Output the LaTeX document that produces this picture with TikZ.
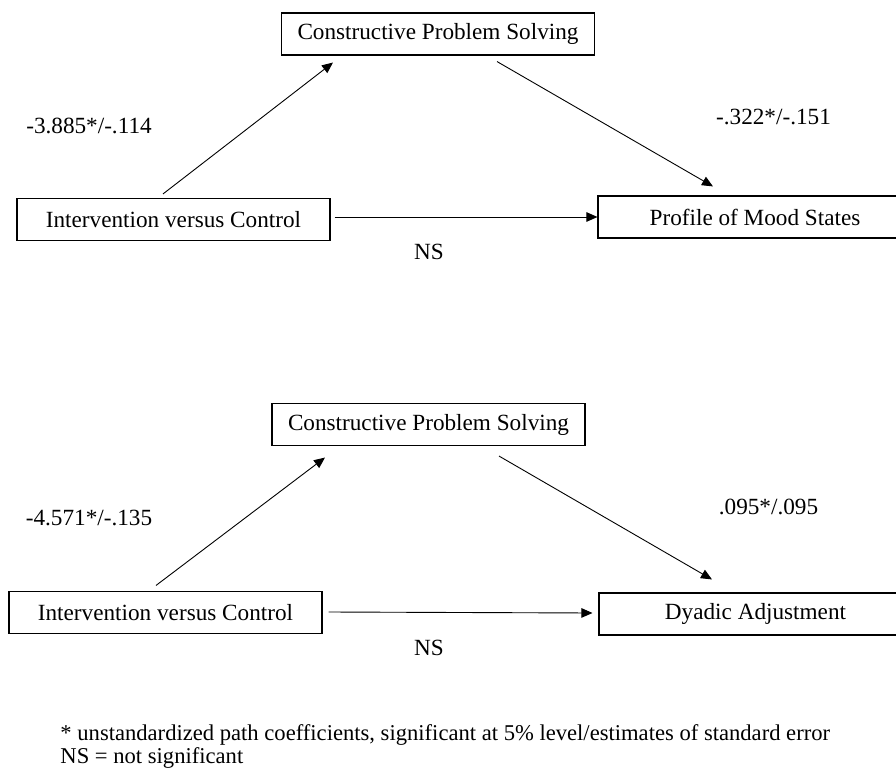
\documentclass[tikz,border=0pt]{standalone}
\usepackage{fontspec}
\setmainfont{Liberation Serif}
\usetikzlibrary{arrows.meta,positioning,calc}

\begin{document}
\begin{tikzpicture}[
	x = 1pt, y = -1pt, % one unit = one pixel of the reference, y downwards
	> = {Triangle[length=11pt, width=9.5pt]}, % arrow head style
	line width = 0.9pt,
	B/.style={draw, line width=1.1pt, inner sep=0pt, minimum width=313pt, minimum height=42pt, font=\fontsize{23.2}{27}\selectfont},  %variable box
	C/.style={inner sep=0pt, font=\fontsize{23.2}{27}\selectfont},  %path coefficient
	N/.style={inner sep=0pt, anchor=base west, font=\fontsize{22.6}{22}\selectfont},  %footnote
	]
	\useasboundingbox (0,0) rectangle (896,775);
	\clip (0,0) rectangle (896,775);

	% Upper model: mood states
	\node[B] (cps1) at (438,34)    {Constructive Problem Solving};
	\node[B] (ivc1) at (173.5,219.5) {Intervention versus Control};
	\node[B, minimum width=314pt] (pom1) at (755,217) {Profile of Mood States};

	\node[C] (a1) at (89,126)    {-3.885*/-.114};
	\node[C] (b1) at (773.5,117) {-.322*/-.151};
	\node[C] (c1) at (429,252)   {NS};

	\path[->] ($(ivc1.north)+(-10.5,-4)$) edge ($(cps1.south)+(-105,7)$);
	\path[->] ($(cps1.south)+(59,6)$) edge ($(pom1.north)+(-42,-9)$);
	\path[->] ($(ivc1.east)+(4,-2.5)$) edge (pom1.west);

	% Lower model: dyadic adjustment
	\node[B] (cps2) at (428.5,424.5) {Constructive Problem Solving};
	\node[B] (ivc2) at (165.5,612.5) {Intervention versus Control};
	\node[B] (dya2) at (755.5,614)   {Dyadic Adjustment};

	\node[C] (a2) at (89,518)    {-4.571*/-.135};
	\node[C] (b2) at (768.5,507) {.095*/.095};
	\node[C] (c2) at (429,648)   {NS};

	\path[->] ($(ivc2.north)+(-9.5,-5.5)$) edge ($(cps2.south)+(-103.5,11.5)$);
	\path[->] ($(cps2.south)+(70.5,10)$) edge ($(dya2.north)+(-43.5,-13)$);
	\path[->] ($(ivc2.east)+(6,-0.5)$) edge ($(dya2.west)+(-6,-1)$);

	% Notes
	\node[N] (n1) at (60,740) {* unstandardized path coefficients, significant at 5\% level/estimates of standard error};
	\node[N] (n2) at (60,763) {NS = not significant};

\end{tikzpicture}
\end{document}
